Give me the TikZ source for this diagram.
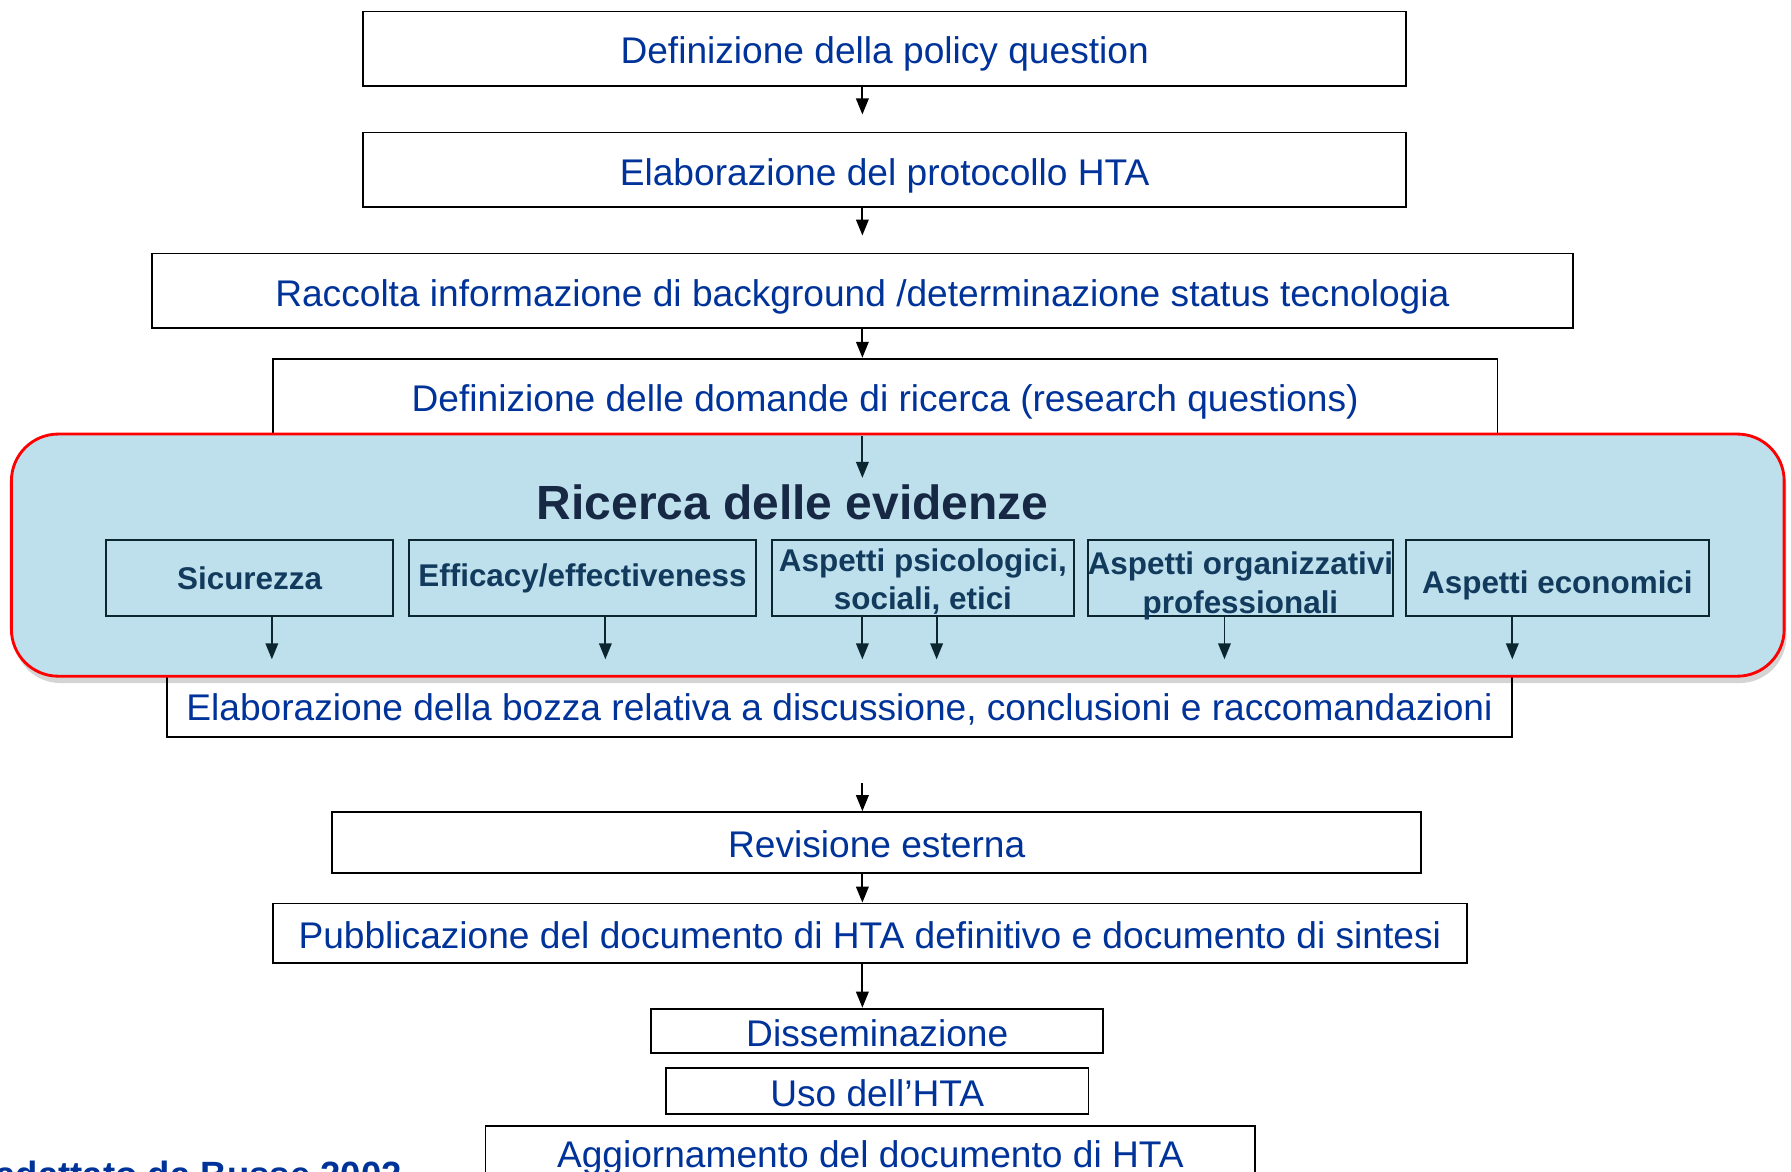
\documentclass[tikz,border=0pt]{standalone}
\usepackage{fontspec}
\setmainfont{Liberation Sans}
\usepackage{xcolor}
\definecolor{TextBlue}{RGB}{0,51,153}
\definecolor{PanelBlue}{RGB}{189,224,236}
\definecolor{PanelRed}{RGB}{255,0,0}
\definecolor{TitleNavy}{RGB}{23,40,68}
\definecolor{AspectText}{RGB}{18,58,92}
\definecolor{AspectLine}{RGB}{12,38,48}
\usepackage{tikz}
\usetikzlibrary{arrows.meta,shadows}

\tikzset{
  stepbox/.style={draw=black, line width=1.6pt, fill=white, text=TextBlue, inner sep=0pt,
    text height=30pt, text depth=3pt, font=\fontsize{32.5}{38}\selectfont},
  panel/.style={draw=PanelRed, line width=2.5pt, fill=PanelBlue, rounded corners=41pt,
    drop shadow={shadow xshift=2pt, shadow yshift=-6pt, opacity=0.17, fill=black}},
  aspectbox/.style={draw=AspectLine, line width=1.5pt, text=AspectText, inner sep=0pt,
    align=center, minimum height=66pt, font=\bfseries\fontsize{27.5}{34}\selectfont},
  flow/.style={-{Triangle[width=11pt,length=14pt]}, line width=1.6pt},
  subflow/.style={flow, draw=AspectLine},
}

\begin{document}
\begin{tikzpicture}[x=1pt, y=-1pt]

	% Frame
	\useasboundingbox (0,0) rectangle (1568,1026);
	\clip (0,0) rectangle (1568,1026);
	\coordinate (axis) at (755,0);

	% Steps
	\node[stepbox, minimum width=913pt, minimum height=65pt] (policy) at (774.5,42.5) {Definizione della policy question};
	\node[stepbox, minimum width=913pt, minimum height=65pt] (protocollo) at (774.5,148.5) {Elaborazione del protocollo HTA};
	\node[stepbox, minimum width=1244pt, minimum height=65pt] (raccolta) at (755,254.5) {Raccolta informazione di background /determinazione status tecnologia};
	\node[stepbox, minimum width=1072pt, minimum height=66pt] (domande) at (775,347) {Definizione delle domande di ricerca (research questions)};
	\node[stepbox, minimum width=1178pt, minimum height=55pt] (bozza) at (735,617.5) {Elaborazione della bozza relativa a discussione, conclusioni e raccomandazioni};
	\node[stepbox, minimum width=953pt, minimum height=53pt] (revisione) at (767.5,737.5) {Revisione esterna};
	\node[stepbox, minimum width=1045pt, minimum height=52pt] (pubblicazione) at (761.5,817) {Pubblicazione del documento di HTA definitivo e documento di sintesi};
	\node[stepbox, minimum width=396pt, minimum height=39pt] (disseminazione) at (768,902.5) {Disseminazione};
	\node[stepbox, minimum width=370pt, minimum height=40pt] (uso) at (768,955) {Uso dell’HTA};
	\node[stepbox, minimum width=674pt, minimum height=46pt] (aggiornamento) at (762,1009) {Aggiornamento del documento di HTA};

	% Evidence panel
	\node[panel, minimum width=1552pt, minimum height=212pt] (evidenze) at (786,486) {};
	\node[text=TitleNavy, inner sep=0pt, font=\bfseries\fontsize{42}{48}\selectfont] (titolo) at (694,440) {Ricerca delle evidenze};

	\node[aspectbox, minimum width=251pt] (sicurezza) at (218.5,506) {Sicurezza};
	\node[aspectbox, minimum width=304pt] (efficacy) at (510,506) {Efficacy/effectiveness};
	\node[aspectbox, minimum width=264pt, text height=60pt, text depth=4pt] (psicologici) at (808,506) {Aspetti psicologici,\\sociali, etici};
	\node[aspectbox, minimum width=264pt, text height=63pt, text depth=1pt] (organizzativi) at (1086,506) {Aspetti organizzativi\\professionali};
	\node[aspectbox, minimum width=265pt, text height=30pt, text depth=2pt] (economici) at (1363.5,506) {Aspetti economici};

	% Source
	\node[anchor=base west, inner sep=0pt, text=TextBlue, font=\bfseries\fontsize{32}{38}\selectfont] (fonte) at (-4,1040) {adattato da Busse 2002};

	% Flows
	\draw[flow, shorten >=15pt] (policy.south -| axis) -- (protocollo.north -| axis);
	\draw[flow, shorten >=15pt] (protocollo.south -| axis) -- (raccolta.north -| axis);
	\draw[flow] (raccolta.south -| axis) -- (domande.north -| axis);
	\draw[subflow, shorten <=3pt, shorten >=6pt] (evidenze.north -| axis) -- (titolo.north -| axis);

	\draw[subflow, shorten >=12pt] (sicurezza.south -| 238,0) -- (bozza.north -| 238,0);
	\draw[subflow, shorten >=12pt] (efficacy.south -| 530,0) -- (bozza.north -| 530,0);
	\draw[subflow, shorten >=12pt] (psicologici.south -| axis) -- (bozza.north -| axis);
	\draw[subflow, shorten >=12pt] (psicologici.south -| 820,0) -- (bozza.north -| 820,0);
	\draw[subflow, shorten >=12pt] (organizzativi.south -| 1072,0) -- (bozza.north -| 1072,0);
	\draw[subflow, shorten >=12pt] (economici.south -| 1324,0) -- (bozza.north -| 1324,0);

	\draw[flow, shorten <=40pt] (bozza.south -| axis) -- (revisione.north -| axis);
	\draw[flow] (revisione.south -| axis) -- (pubblicazione.north -| axis);
	\draw[flow] (pubblicazione.south -| axis) -- (disseminazione.north -| axis);

\end{tikzpicture}
\end{document}
